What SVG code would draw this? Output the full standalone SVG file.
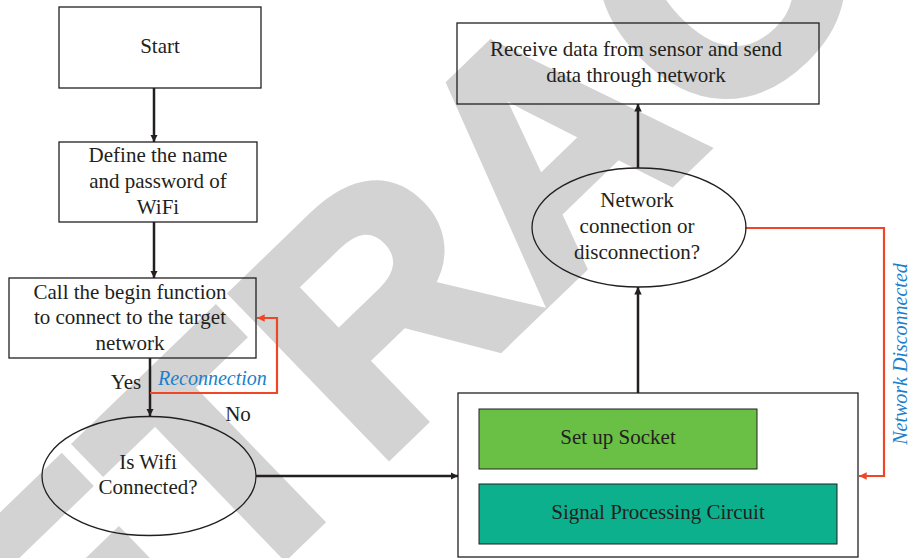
<svg xmlns="http://www.w3.org/2000/svg" width="910" height="558" viewBox="0 0 910 558">
  <defs>
    <style>
      .box { fill: none; stroke: #231f20; stroke-width: 1.3; }
      .lbl { font-family: "Liberation Serif", "DejaVu Serif", serif; font-size: 21px; fill: #231f20; text-anchor: middle; }
      .note { font-family: "Liberation Serif", "DejaVu Serif", serif; font-size: 20px; font-style: italic; fill: #1b7fcc; }
      .flow { fill: none; stroke: #231f20; stroke-width: 2.5; }
      .loop { fill: none; stroke: #ef4627; stroke-width: 2.2; }
      .mark { font-family: "Liberation Sans", "DejaVu Sans", sans-serif; font-weight: bold; font-size: 325px; fill: #d3d3d3; stroke: #d3d3d3; stroke-width: 10; stroke-linejoin: miter; }
    </style>
    <marker id="arrowBlack" viewBox="0 0 10 10" refX="10" refY="5" markerWidth="3" markerHeight="3" orient="auto" markerUnits="strokeWidth">
      <path d="M0,0 L10,5 L0,10 z" fill="#231f20"/>
    </marker>
    <marker id="arrowRed" viewBox="0 0 10 10" refX="10" refY="5" markerWidth="3.5" markerHeight="3.5" orient="auto" markerUnits="strokeWidth">
      <path d="M0,0 L10,5 L0,10 z" fill="#ef4627"/>
    </marker>
  </defs>

  <rect width="910" height="558" fill="#ffffff"/>

  <!-- diagonal stamp behind the chart -->
  <g id="stamp">
    <text class="mark" transform="translate(-94,921) rotate(-44)" x="0" y="0">RETRACTED</text>
  </g>

  <!-- connectors -->
  <g id="connectors">
    <line class="flow" x1="154" y1="88" x2="154" y2="142" marker-end="url(#arrowBlack)"/>
    <line class="flow" x1="154" y1="222" x2="154" y2="278" marker-end="url(#arrowBlack)"/>
    <line class="flow" x1="150" y1="358" x2="150" y2="416" marker-end="url(#arrowBlack)"/>
    <polyline class="loop" points="150,393 277,393 277,318 257,318" marker-end="url(#arrowRed)"/>
    <line class="flow" x1="256" y1="476" x2="458" y2="476" marker-end="url(#arrowBlack)"/>
    <line class="flow" x1="638" y1="393" x2="638" y2="287" marker-end="url(#arrowBlack)"/>
    <line class="flow" x1="638" y1="168" x2="638" y2="104" marker-end="url(#arrowBlack)"/>
    <polyline class="loop" points="745,228 884,228 884,476 859,476" marker-end="url(#arrowRed)"/>
    <text class="lbl" x="126" y="389">Yes</text>
    <text class="note" x="158" y="385">Reconnection</text>
    <text class="lbl" x="238" y="421">No</text>
    <text class="note" transform="translate(907,354) rotate(-90)" text-anchor="middle">Network Disconnected</text>
  </g>

  <g id="start">
    <rect class="box" x="59" y="7" width="202" height="81"/>
    <text class="lbl" x="160" y="53">Start</text>
  </g>

  <g id="define-wifi">
    <rect class="box" x="59" y="142" width="198" height="80"/>
    <text class="lbl" x="158" y="162">Define the name</text>
    <text class="lbl" x="158" y="188">and password of</text>
    <text class="lbl" x="158" y="214">WiFi</text>
  </g>

  <g id="begin-call">
    <rect class="box" x="9" y="278" width="247" height="80"/>
    <text class="lbl" x="130" y="299">Call the begin function</text>
    <text class="lbl" x="130" y="324">to connect to the target</text>
    <text class="lbl" x="130" y="350">network</text>
  </g>

  <g id="wifi-check">
    <ellipse class="box" cx="149" cy="476" rx="107" ry="59.5"/>
    <text class="lbl" x="148" y="469">Is Wifi</text>
    <text class="lbl" x="148" y="494">Connected?</text>
  </g>

  <g id="socket-block">
    <rect class="box" x="458" y="393" width="400" height="164"/>
    <rect x="479" y="409" width="278" height="60" fill="#6abf45" stroke="#231f20" stroke-width="1"/>
    <text class="lbl" x="618" y="444">Set up Socket</text>
    <rect x="479" y="484" width="358" height="60" fill="#0db08d" stroke="#231f20" stroke-width="1"/>
    <text class="lbl" x="658" y="519">Signal Processing Circuit</text>
  </g>

  <g id="network-check">
    <ellipse class="box" cx="639" cy="227.5" rx="107" ry="59.5"/>
    <text class="lbl" x="637" y="207">Network</text>
    <text class="lbl" x="637" y="233">connection or</text>
    <text class="lbl" x="637" y="259">disconnection?</text>
  </g>

  <g id="send-data">
    <rect class="box" x="457" y="23" width="362" height="81"/>
    <text class="lbl" x="636" y="56">Receive data from sensor and send</text>
    <text class="lbl" x="636" y="82">data through network</text>
  </g>
</svg>
